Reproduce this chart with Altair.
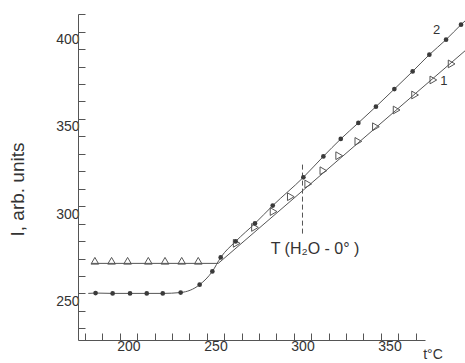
import altair as alt
import pandas as pd

# ---- data ----
# curve 2 (filled dots)
c2_x = [181.1, 190.9, 200.9, 210.5, 219.7, 230.0, 240.9, 248.2, 253.0, 261.6, 272.7,
        282.9, 300.5, 312.0, 322.0, 332.1, 342.2, 352.8, 363.3, 372.9, 382.5, 391.1]
c2_y = [250.2, 250.0, 250.0, 250.0, 250.0, 250.5, 255.0, 262.6, 270.6, 279.8, 290.1,
        300.3, 316.5, 328.5, 338.5, 347.7, 357.0, 367.1, 377.2, 386.8, 395.4, 404.0]
# curve 2 line end points (line continues through the dots)
c2_start = (176.9, 250.0)
c2_end = (393.5, 406.2)

# curve 1 (open triangles)
c1_x = [180.7, 190.3, 199.5, 211.4, 221.0, 230.6, 240.1,
        262.2, 272.7, 283.4, 293.3, 303.3, 312.0, 321.1, 332.1, 342.2, 354.1, 364.7, 375.2, 385.7]
c1_y = [268.7, 268.7, 268.7, 268.7, 268.7, 268.7, 268.7,
        278.7, 287.8, 296.9, 305.4, 312.7, 320.3, 328.9, 337.1, 345.5, 355.1, 363.7, 372.3, 381.5]
# curve 1 fitted line (flat part, knee, straight part)
c1_line_x = [178.8, 251.6, 393.4]
c1_line_y = [267.2, 267.2, 389.0]

# T(H2O-0°) marker
t_mark_x = [300.0]
t_mark_y = [323.8]
t_mark_y2 = [284.2]

# annotations
curve_lbl_text = ["2", "1"]
curve_lbl_x = [377.1, 381.3]
curve_lbl_y = [401.0, 371.9]
t_lbl_text = ["T (H\u2082O - 0\u00b0 )"]
t_lbl_x = [307.2]
t_lbl_y = [275.4]

# axes
x_tick_values = list(range(180, 371, 10))   # drawn half a step to the left
y_tick_values = list(range(230, 411, 10))

FONT = "Liberation Sans"
GREY = "#555555"
TXT = "#333333"

xs = alt.Scale(domain=[171, 370.4], nice=False, zero=False)
ys = alt.Scale(domain=[223.3, 410.1], nice=False, zero=False)

x_axis = alt.Axis(
    values=x_tick_values, tickOffset=-8.7, labelOffset=8.7,
    labelExpr="datum.value % 50 == 0 ? datum.label : ''",
    tickSize={"expr": "-7"}, labelPadding=6, grid=False,
    title="t\u00b0C", titleX=354.5, titleY=14, titleAlign="center",
    titleBaseline="middle", titleFontSize=14, titleFontWeight="normal",
    titleColor=TXT, labelFlush=False, labelOverlap=False,
)
y_axis = alt.Axis(
    values=y_tick_values,
    labelExpr="datum.value % 50 == 0 ? datum.label : ''",
    tickSize={"expr": "-7"}, labelPadding=6, labelOffset=8, grid=False,
    title="I, arb. units", titleX=-61, titleY=175, titleAngle=270,
    titleAlign="center", titleBaseline="middle", titleFontSize=19,
    titleFontWeight="normal", titleColor=TXT, labelOverlap=False,
)

def X(field="x"):
    return alt.X(f"{field}:Q", scale=xs, axis=x_axis)

def Y(field="y"):
    return alt.Y(f"{field}:Q", scale=ys, axis=y_axis)

df_c2 = pd.DataFrame({"x": c2_x, "y": c2_y})
df_c2_line = pd.DataFrame({"x": [c2_start[0]] + c2_x + [c2_end[0]],
                           "y": [c2_start[1]] + c2_y + [c2_end[1]]})
df_c1 = pd.DataFrame({"x": c1_x, "y": c1_y})
df_c1_line = pd.DataFrame({"x": c1_line_x, "y": c1_line_y})
df_t = pd.DataFrame({"x": t_mark_x, "y": t_mark_y, "y2": t_mark_y2})
df_cl = pd.DataFrame({"x": curve_lbl_x, "y": curve_lbl_y, "t": curve_lbl_text})
df_tl = pd.DataFrame({"x": t_lbl_x, "y": t_lbl_y, "t": t_lbl_text})

line2 = alt.Chart(df_c2_line).mark_line(color=GREY, strokeWidth=1, interpolate="monotone").encode(
    x=X(), y=Y(), order="x:Q")
line1 = alt.Chart(df_c1_line).mark_line(color=GREY, strokeWidth=1).encode(x=X(), y=Y())
dots = alt.Chart(df_c2).mark_point(filled=True, size=22, color="#3a3a3a", opacity=1).encode(
    x=X(), y=Y())
tris = alt.Chart(df_c1).mark_point(filled=False, size=60, color=GREY, strokeWidth=1, opacity=1).encode(
    x=X(), y=Y(),
    shape=alt.condition("datum.x < 250", alt.value("triangle-up"), alt.value("triangle-right")))
rule = alt.Chart(df_t).mark_rule(color=GREY, strokeWidth=1, strokeDash=[5, 3]).encode(
    x=X(), y=Y(), y2="y2:Q")
clabels = alt.Chart(df_cl).mark_text(font=FONT, fontSize=13, color=TXT).encode(
    x=X(), y=Y(), text="t:N")
tlabel = alt.Chart(df_tl).mark_text(font=FONT, fontSize=16, color=TXT).encode(
    x=X(), y=Y(), text="t:N")

chart = alt.layer(line1, line2, rule, tris, dots, clabels, tlabel).properties(
    width=347, height=326,
    padding={"left": 78, "top": 14, "right": 40, "bottom": 23},
    autosize=alt.AutoSizeParams(type="none"),
    background="white",
).configure_view(stroke=None).configure_axis(
    domainColor=GREY, tickColor=GREY, labelColor=TXT, labelFont=FONT,
    titleFont=FONT, labelFontSize=14, domainWidth=1, tickWidth=1,
)

chart.save("out.html", embed_options={"renderer": "svg", "actions": False})
